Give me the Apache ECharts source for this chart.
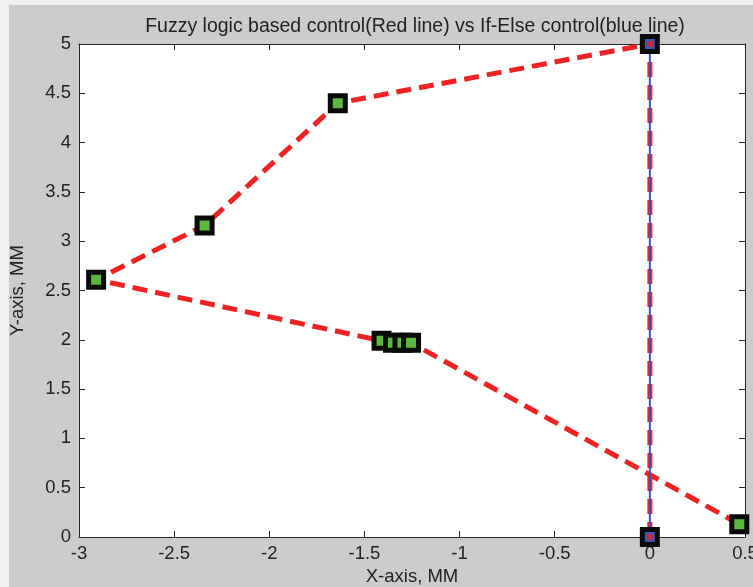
<!DOCTYPE html>
<html><head><meta charset="utf-8">
<script src="https://cdn.jsdelivr.net/npm/echarts@6/dist/echarts.min.js"></script>
<style>html,body{margin:0;padding:0;background:#f0f0f0}#c{width:753px;height:587px}</style>
</head><body><div id="c"></div>
<script>
const titleText = 'Fuzzy logic based control(Red line) vs If-Else control(blue line)';
const xTicks = [-3, -2.5, -2, -1.5, -1, -0.5, 0, 0.5];
const yTicks = [0, 0.5, 1, 1.5, 2, 2.5, 3, 3.5, 4, 4.5, 5];
// Fuzzy logic path (red dashed line)
const fuzzyX = [0, 0, -1.64, -2.34, -2.91, -1.41, -1.35, -1.30, -1.255, 0.47];
const fuzzyY = [0, 5, 4.40, 3.16, 2.61, 1.99, 1.97, 1.97, 1.97, 0.13];
// If-Else path (blue line)
const ifElseX = [0, 0];
const ifElseY = [0, 5];

const chart = echarts.init(document.getElementById('c'), null, {renderer: 'canvas'});
const fontFam = '"Liberation Sans", Arial, sans-serif';
const txt = '#222';
const isEndpoint = (x, y) => ifElseX.some((v, i) => v === x && ifElseY[i] === y);
const fuzzyData = fuzzyX.map((x, i) => {
  const y = fuzzyY[i];
  if (isEndpoint(x, y)) {
    return {value: [x, y], symbolSize: 6, itemStyle: {color: '#ee2222', borderWidth: 0}};
  }
  return [x, y];
});
const ifElseData = ifElseX.map((x, i) => [x, ifElseY[i]]);
const axisCommon = {
  type: 'value',
  axisLine: {show: true, onZero: false, lineStyle: {color: '#262626', width: 1}},
  axisTick: {show: true, inside: true, length: 6, lineStyle: {color: '#262626'}},
  splitLine: {show: false}
};
const labelStyle = {fontFamily: fontFam, fontSize: 18.5, color: txt};
chart.setOption({
  backgroundColor: 'transparent',
  animation: false,
  graphic: [{type: 'rect', z: -10, shape: {x: 9, y: 5, width: 744, height: 582}, style: {fill: '#cccccc'}}],
  title: {text: titleText, left: 410, top: 12, textAlign: 'center',
    textStyle: {fontFamily: fontFam, fontSize: 19.5, fontWeight: 'normal', color: txt}},
  grid: {left: 79, right: 8, top: 44, bottom: 50, show: true, backgroundColor: '#ffffff', borderWidth: 0,
    outerBoundsMode: 'none', containLabel: false},
  xAxis: [
    Object.assign({}, axisCommon, {min: -3, max: 0.5, interval: 0.5, position: 'bottom',
      name: 'X-axis, MM', nameLocation: 'middle', nameGap: 30,
      nameTextStyle: labelStyle,
      axisLabel: Object.assign({}, labelStyle, {margin: 7, hideOverlap: false,
        formatter: v => xTicks.includes(v) ? String(v) : ''})}),
    Object.assign({}, axisCommon, {min: -3, max: 0.5, interval: 0.5, position: 'top', axisLabel: {show: false}})
  ],
  yAxis: [
    Object.assign({}, axisCommon, {min: 0, max: 5, interval: 0.5, position: 'left',
      name: 'Y-axis, MM', nameLocation: 'middle', nameGap: 52,
      nameTextStyle: labelStyle,
      axisLabel: Object.assign({}, labelStyle, {margin: 8, hideOverlap: false,
        formatter: v => yTicks.includes(v) ? String(v) : ''})}),
    Object.assign({}, axisCommon, {min: 0, max: 5, interval: 0.5, position: 'right', axisLabel: {show: false}})
  ],
  series: [
    {type: 'line', name: 'Fuzzy', data: fuzzyData, z: 3, clip: false,
      lineStyle: {color: '#ee2222', width: 5, type: [15, 8]},
      symbol: 'rect', symbolSize: 15, showAllSymbol: true,
      itemStyle: {color: '#5cb83c', borderColor: '#0a0a0a', borderWidth: 5}},
    {type: 'line', name: 'IfElse', data: ifElseData, z: 4, clip: false,
      lineStyle: {color: '#3a55b8', width: 2},
      symbol: 'rect', symbolSize: 15, showAllSymbol: true,
      itemStyle: {color: '#3a55b8', borderColor: '#0a0a0a', borderWidth: 5}},
    {type: 'scatter', name: 'IfElseCenter', data: ifElseData, z: 5,
      symbol: 'rect', symbolSize: 6, itemStyle: {color: '#ee2222'}}
  ]
});
</script></body></html>
